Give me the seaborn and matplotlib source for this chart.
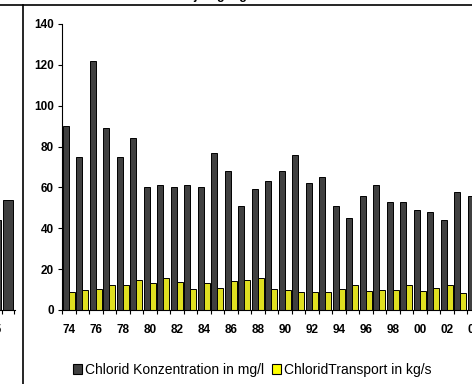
import matplotlib
matplotlib.use('Agg')
import matplotlib.pyplot as plt
import seaborn as sns
import numpy as np
import pandas as pd
from matplotlib.lines import Line2D
from matplotlib.patches import Patch

# --------------------------------------------------
# data
years = ['74', '75', '76', '77', '78', '79', '80', '81', '82', '83', '84',
         '85', '86', '87', '88', '89', '90', '91', '92', '93', '94', '95',
         '96', '97', '98', '99', '00', '01', '02', '03', '04']
konzentration = [90, 75, 122, 89, 75, 84, 60, 61, 60, 61, 60,
                 77, 68, 51, 59, 63, 68, 76, 62, 65, 51, 45,
                 56, 61, 53, 53, 49, 48, 44, 58, 56]
transport = [9, 10, 10.5, 12, 12, 14.5, 13, 15.5, 13.5, 10.5, 13,
             11, 14, 14.5, 15.5, 10.5, 10, 9, 9, 9, 10.5, 12,
             9.5, 10, 10, 12, 9.5, 11, 12, 8.5, 9]
series = ['Chlorid Konzentration in mg/l', 'ChloridTransport in kg/s']
colors = ['#404040', '#ffff00']
yticks = [0, 20, 40, 60, 80, 100, 120, 140]

# remnant of the neighbouring chart on the left edge
left_cats = ['05', '06']
left_vals = [44, 54]

W, H = 472, 384
BOLD = dict(family='Liberation Sans', weight='bold', size=8.5)

df = pd.DataFrame({
    'jahr': years * 2,
    'wert': konzentration + transport,
    'serie': [series[0]] * len(years) + [series[1]] * len(years),
})

fig = plt.figure(figsize=(W / 100, H / 100), dpi=100)
plt.rcParams['font.family'] = ['Liberation Sans', 'DejaVu Sans']

# main chart axes, 13.5 px per year, runs past the right edge
slot = 13.5
x0, y0, y1 = 62, 310, 24
ax = fig.add_axes([x0 / W, (H - y0) / H, len(years) * slot / W, (y0 - y1) / H])
sns.barplot(data=df, x='jahr', y='wert', hue='serie', order=years,
            hue_order=series, palette=colors, width=0.9, errorbar=None,
            edgecolor='black', linewidth=0.7, legend=False, ax=ax)
ax.set_xlim(-0.5, len(years) - 0.5)
ax.set_ylim(0, 140)
ax.set_facecolor('white')
for s in ['top', 'right']:
    ax.spines[s].set_visible(False)
for s in ['left', 'bottom']:
    ax.spines[s].set_color('black')
    ax.spines[s].set_linewidth(0.8)
ax.set_yticks(yticks)
ax.set_yticklabels([str(v) for v in yticks], fontdict=BOLD)
ax.tick_params(axis='y', length=3, width=0.8, pad=3, color='black')
ax.set_xticks(np.arange(len(years) + 1) - 0.5)
ax.set_xticklabels([])
ax.tick_params(axis='x', which='major', length=3, width=0.8, color='black')
lab_pos = np.arange(0, len(years), 2)
ax.set_xticks(lab_pos, minor=True)
ax.set_xticklabels([years[i] for i in lab_pos], minor=True, fontdict=BOLD)
ax.tick_params(axis='x', which='minor', length=0, pad=10)
ax.set_xlabel('')
ax.set_ylabel('')

# neighbouring chart, only its right end is visible
ax2 = fig.add_axes([-10.6 / W, (H - y0) / H, 25.6 / W, (y0 - y1) / H])
sns.barplot(x=left_cats, y=left_vals, hue=left_cats, palette=[colors[0]] * 2,
            width=0.85, errorbar=None, edgecolor='black', linewidth=0.7,
            legend=False, ax=ax2)
ax2.set_xlim(-0.5, 1.58)
ax2.set_ylim(0, 140)
for s in ['top', 'right', 'left']:
    ax2.spines[s].set_visible(False)
ax2.spines['bottom'].set_color('black')
ax2.spines['bottom'].set_linewidth(0.8)
ax2.set_yticks([])
ax2.set_xticks([-0.5, 0.5, 1.5])
ax2.set_xticklabels([])
ax2.tick_params(axis='x', which='major', length=3, width=0.8, color='black')
ax2.set_xticks([0], minor=True)
ax2.set_xticklabels(left_cats[:1], minor=True, fontdict=BOLD)
ax2.tick_params(axis='x', which='minor', length=0, pad=10)
ax2.set_xlabel('')
ax2.set_ylabel('')

# chart frames and clipped title
fig.add_artist(Line2D([0, 1], [1 - 5 / H] * 2, transform=fig.transFigure,
                      color='black', lw=1.2))
fig.add_artist(Line2D([22.5 / W] * 2, [0, 1 - 5 / H], transform=fig.transFigure,
                      color='black', lw=1.2))
fig.text(202 / W, 1 + 0.5 / H, 'Abflussjahrgänge', ha='center', va='baseline',
         family='Liberation Sans', weight='bold', size=9)

handles = [Patch(facecolor=c, edgecolor='black', linewidth=0.8) for c in colors]
fig.legend(handles, series, loc='center left',
           bbox_to_anchor=(66 / W, 1 - 370 / H), ncol=2, frameon=False,
           borderpad=0, handlelength=0.65, handleheight=0.65,
           handletextpad=0.2, columnspacing=0.6,
           prop=dict(family='Liberation Sans', size=10))

fig.savefig('out.png', dpi=100, facecolor='white')
